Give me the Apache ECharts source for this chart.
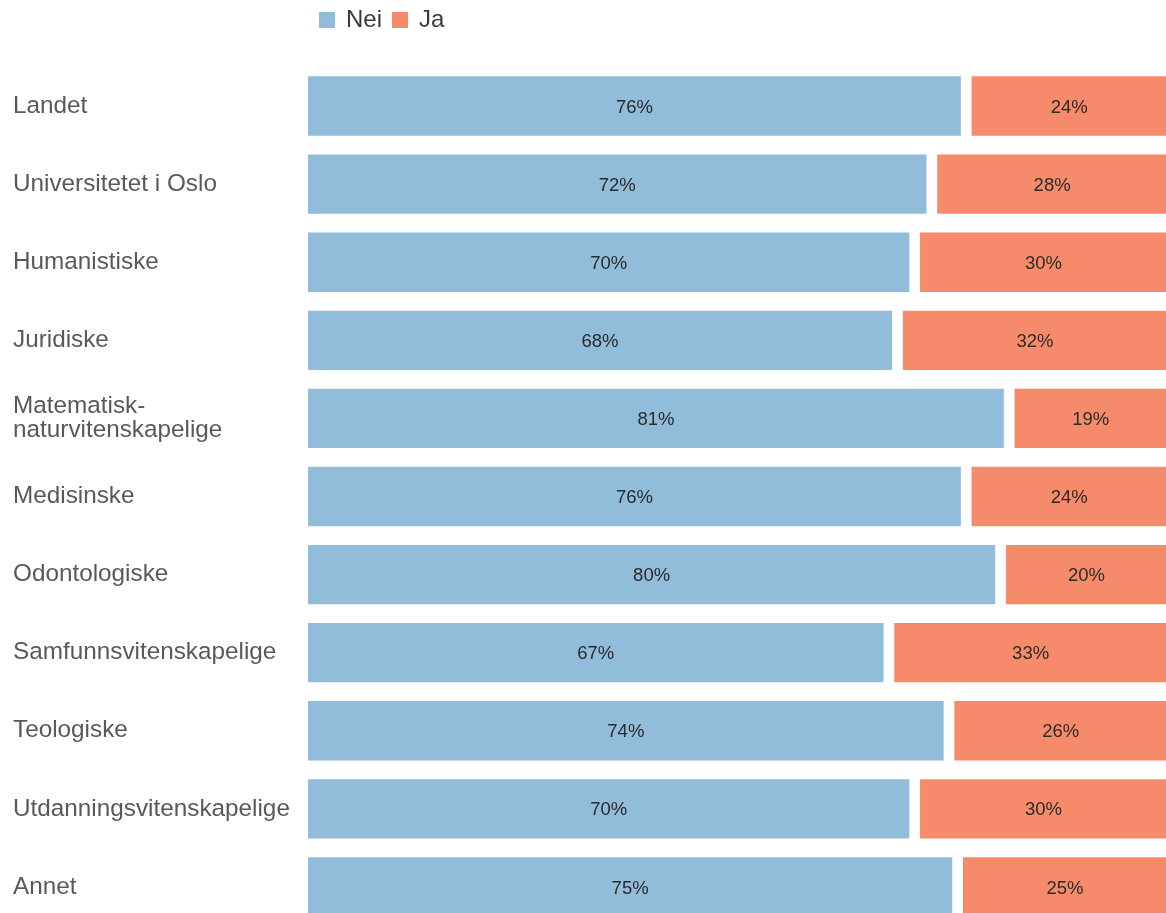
<!DOCTYPE html>
<html>
<head>
<meta charset="utf-8">
<script src="https://cdn.jsdelivr.net/npm/echarts@6/dist/echarts.min.js"></script>
<style>
html,body{margin:0;padding:0;background:#fff;}
#chart{width:1166px;height:913px;}
</style>
</head>
<body>
<div id="chart"></div>
<script>
const categories = ["Landet","Universitetet i Oslo","Humanistiske","Juridiske","Matematisk-\nnaturvitenskapelige","Medisinske","Odontologiske","Samfunnsvitenskapelige","Teologiske","Utdanningsvitenskapelige","Annet"];
const nei = [76,72,70,68,81,76,80,67,74,70,75];
const ja  = [24,28,30,32,19,24,20,33,26,30,25];
const seriesNames = ["Nei","Ja"];

// visual spacer between the two segments (style, not data)
const GAP = 1.25;
const gapSeries = categories.map(() => GAP);

const chart = echarts.init(document.getElementById('chart'), null, {renderer:'canvas'});
const font = "'Liberation Sans', Arial, sans-serif";
const barLabel = {show:true, position:'inside', formatter:'{c}%', fontFamily:font, fontSize:18.5, color:'#2b2b2b', offset:[0,1.5]};
chart.setOption({
  animation:false,
  backgroundColor:'#ffffff',
  legend:{
    data:seriesNames,
    left:319, top:8, padding:0,
    itemWidth:16, itemHeight:16, itemGap:10,
    icon:'rect',
    textStyle:{fontFamily:font, fontSize:24, color:'#3a3a3a', padding:[0,0,0,6]}
  },
  grid:{left:308, top:67, width:859, height:859, containLabel:false, outerBoundsMode:'none'},
  xAxis:{type:'value', min:0, max:100, show:false},
  yAxis:{
    type:'category', data:categories, inverse:true,
    axisLine:{show:false}, axisTick:{show:false}, splitLine:{show:false},
    axisLabel:{align:'left', margin:295, fontFamily:font, fontSize:24.3, color:'#595959', lineHeight:24, padding:[3,0,0,0]}
  },
  series:[
    {name:'Nei', type:'bar', stack:'t', data:nei, barWidth:'76%',
     itemStyle:{color:'#91bcda'}, label:barLabel},
    {name:'_gap', type:'bar', stack:'t', data:gapSeries, silent:true,
     itemStyle:{color:'rgba(0,0,0,0)'}, label:{show:false}},
    {name:'Ja', type:'bar', stack:'t', data:ja, clip:true,
     itemStyle:{color:'#f68b6b'}, label:barLabel}
  ]
});
</script>
</body>
</html>
